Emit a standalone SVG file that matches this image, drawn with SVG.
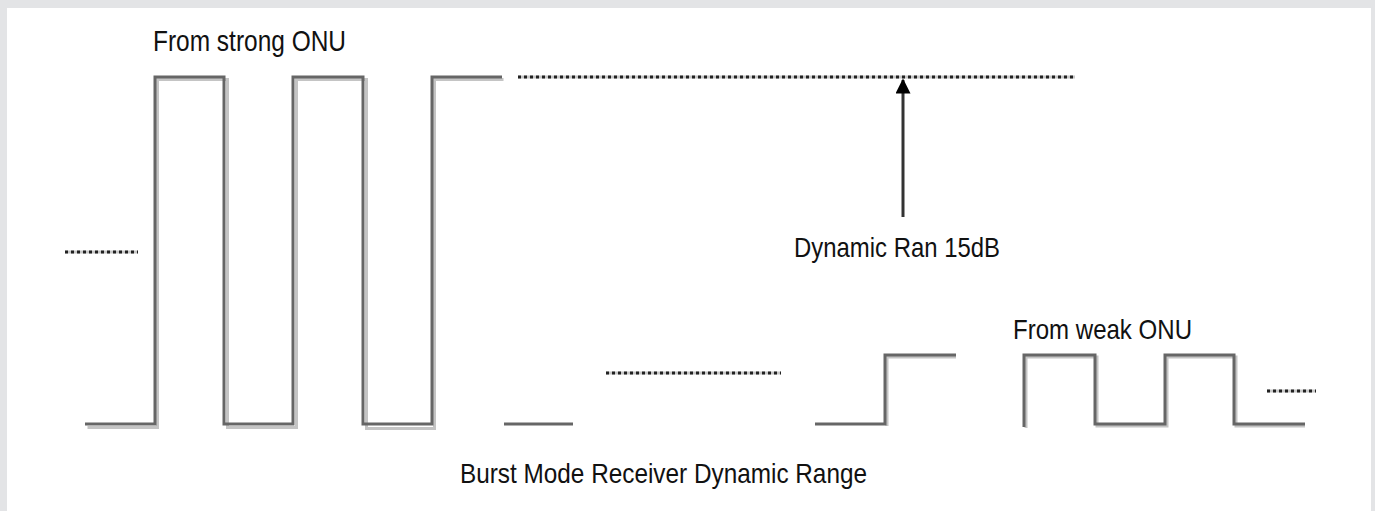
<svg xmlns="http://www.w3.org/2000/svg" width="1375" height="511" viewBox="0 0 1375 511">
<defs>
<style>
.wave{fill:none;stroke:#666;stroke-width:3;stroke-linejoin:miter;stroke-linecap:butt}
.shadow{fill:none;stroke:#c4c4c4;stroke-width:3}
.dotbase{fill:none;stroke:#c8c8c8;stroke-width:3}
.dots{fill:none;stroke:#222;stroke-width:3;stroke-dasharray:3 3}
.lbl{font-family:"Liberation Sans",Arial,sans-serif;fill:#111}
.arrow{stroke:#333;stroke-width:3;fill:none}
</style>
<marker id="ah" viewBox="0 0 10 10" refX="9" refY="5" markerWidth="5" markerHeight="5" orient="auto" markerUnits="strokeWidth">
<path d="M0,0 L10,5 L0,10 Z" fill="#000"/>
</marker>
</defs>
<rect x="0" y="0" width="1375" height="511" fill="#e3e4e6"/>
<rect x="7" y="8" width="1364" height="503" fill="#fff"/>

<g id="strong-onu-waveform">
<polyline class="shadow" points="86,426 156,426 156,78 226,78 226,426 295,426 295,78 365,78 365,427 433,427 433,78 502,78" transform="translate(1.5,1.5)"/>
<polyline class="wave" points="85,424 155,424 155,77 224,77 224,424 293,424 293,77 363,77 363,424 432,424 432,77 502,77"/>
</g>

<g id="weak-onu-waveform">
<polyline class="wave" points="504,424 573,424"/>
<polyline class="shadow" points="887,426 887,357 956,357"/>
<polyline class="wave" points="815,424 885,424 885,355 956,355"/>
<polyline class="shadow" points="1026,428 1026,357 1097,357 1097,426 1167,426 1167,357 1236,357 1236,426 1305,426"/>
<polyline class="wave" points="1024,427 1024,355 1095,355 1095,424 1165,424 1165,355 1234,355 1234,424 1305,424"/>
</g>

<g id="dotted-levels">
<line class="dotbase" x1="65" y1="252" x2="138" y2="252"/>
<line class="dots" x1="65" y1="252" x2="138" y2="252"/>
<line class="dotbase" x1="518" y1="77" x2="1075" y2="77"/>
<line class="dots" x1="518" y1="77" x2="1075" y2="77"/>
<line class="dotbase" x1="606" y1="373" x2="781" y2="373"/>
<line class="dots" x1="606" y1="373" x2="781" y2="373"/>
<line class="dotbase" x1="1267" y1="391" x2="1316" y2="391"/>
<line class="dots" x1="1267" y1="391" x2="1316" y2="391"/>
</g>

<g id="connectors">
<line class="arrow" x1="903" y1="217" x2="903" y2="80" marker-end="url(#ah)"/>
</g>

<g id="label-strong">
<text class="lbl" x="153" y="51" font-size="29" textLength="193" lengthAdjust="spacingAndGlyphs">From strong ONU</text>
</g>
<g id="label-dynamic">
<text class="lbl" x="794" y="257" font-size="28" textLength="206" lengthAdjust="spacingAndGlyphs">Dynamic Ran 15dB</text>
</g>
<g id="label-weak">
<text class="lbl" x="1013" y="339" font-size="28" textLength="179" lengthAdjust="spacingAndGlyphs">From weak ONU</text>
</g>
<g id="label-title">
<text class="lbl" x="460" y="483" font-size="28" textLength="407" lengthAdjust="spacingAndGlyphs">Burst Mode Receiver Dynamic Range</text>
</g>
</svg>
